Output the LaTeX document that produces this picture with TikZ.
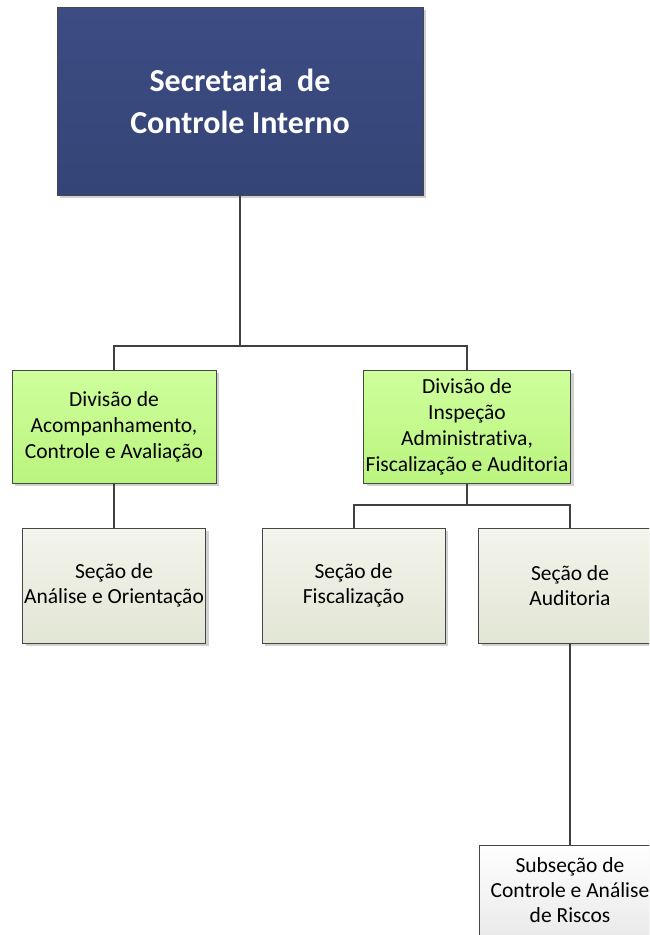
\documentclass[tikz,border=0pt]{standalone}
\usepackage{fontspec}
\setmainfont{Carlito}[Ligatures={NoCommon}]
\usetikzlibrary{shadows}
\definecolor{navyT}{RGB}{61,77,132}
\definecolor{navyB}{RGB}{52,68,118}
\definecolor{greenT}{RGB}{206,255,156}
\definecolor{greenB}{RGB}{186,244,126}
\definecolor{secT}{RGB}{243,244,236}
\definecolor{secB}{RGB}{226,230,212}
\definecolor{subB}{RGB}{234,234,234}
\definecolor{edge}{RGB}{70,70,70}
\definecolor{conn}{RGB}{64,64,64}
\tikzset{
  orgbox/.style={draw=edge, line width=0.8pt, shading=axis, inner sep=0pt, align=center,
    drop shadow={shadow xshift=3pt, shadow yshift=-3pt, fill=black!18, opacity=1}},
  topbox/.style={orgbox, top color=navyT, bottom color=navyB, minimum width=366pt, minimum height=188pt,
    text=white, font=\fontsize{32}{42}\selectfont\bfseries},
  divbox/.style={orgbox, top color=greenT, bottom color=greenB, minimum height=113pt,
    font=\fontsize{21.5}{26}\selectfont},
  secbox/.style={orgbox, top color=secT, bottom color=secB, minimum width=183pt, minimum height=115pt,
    font=\fontsize{21.5}{25}\selectfont},
  subbox/.style={orgbox, top color=white, bottom color=subB, minimum width=182pt, minimum height=90pt,
    font=\fontsize{21.5}{25}\selectfont},
  link/.style={draw=conn, line width=2pt}
}
\begin{document}
\begin{tikzpicture}[x=1pt, y=-1pt]
\useasboundingbox (0,0) rectangle (649,935);
\clip (0,0) rectangle (649,935);
\node[topbox] (top) at (240,101) {Secretaria\ \ de\\Controle Interno};
\node[divbox, minimum width=204pt] (div1) at (114,426.5) {Divisão de\\Acompanhamento,\\Controle e Avaliação};
\node[divbox, minimum width=207pt] (div2) at (467,426.5) {Divisão de\\Inspeção\\Administrativa,\\Fiscalização e Auditoria};
\node[secbox] (sec1) at (114,585.5) {Seção de\\Análise e Orientação};
\node[secbox] (sec2) at (353.5,585.5) {Seção de\\Fiscalização};
\node[secbox] (sec3) at (570,585.5) {Seção de\\Auditoria};
\node[subbox] (sub) at (570,890) {Subseção de\\Controle e Análise\\de Riscos};
\coordinate (j1) at (240,346);
\coordinate (j2) at (467,505);
\draw[link] (top.south) -- (j1);
\draw[link] (div1.north) |- (j1) -| (div2.north);
\draw[link] (div1.south) -- (sec1.north);
\draw[link] (div2.south) -- (j2);
\draw[link] (sec2.north) |- (j2) -| (sec3.north);
\draw[link] (sec3.south) -- (sub.north);
\end{tikzpicture}
\end{document}
